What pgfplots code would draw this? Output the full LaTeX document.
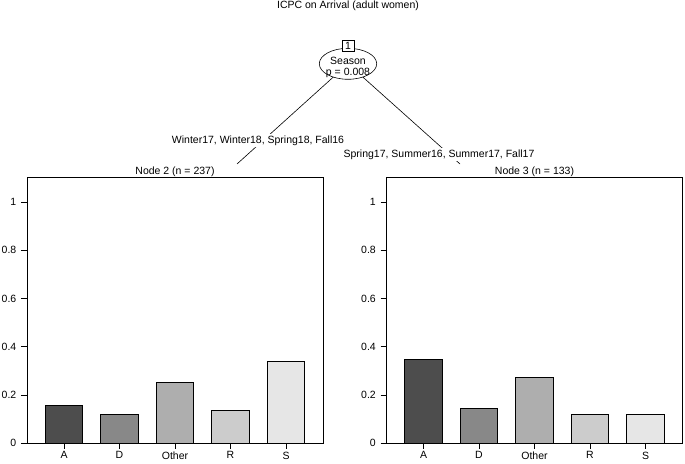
\documentclass[border=0pt]{standalone}
\usepackage{pgfplots}
\pgfplotsset{compat=1.18}
\usepackage{fontspec}
\setmainfont{Liberation Sans}
\definecolor{cA}{HTML}{4D4D4D}
\definecolor{cD}{HTML}{888888}
\definecolor{cO}{HTML}{AEAEAE}
\definecolor{cR}{HTML}{CCCCCC}
\definecolor{cS}{HTML}{E6E6E6}
\pgfplotsset{
  nodepanel/.style={
    anchor=south west, width=296bp, height=266bp, scale only axis,
    xmin=0.3333, xmax=5.6667, ymin=0, ymax=1.104,
    xtick={1,2,3,4,5}, xticklabels={A,D,Other,R,S},
    ytick={0,0.2,0.4,0.6,0.8,1},
    xtick pos=left, ytick pos=left, tick align=outside,
    major tick length=6bp,
    tick style={black, line width=0.6bp},
    axis line style={line width=0.7bp},
    /pgf/number format/assume math mode=true,
    yticklabel style={/pgf/number format/fixed, xshift=-1bp},
    xticklabel style={yshift=-1.5bp, inner sep=1bp},
    every axis plot/.append style={ybar, bar width=0.675, bar shift=0pt, draw=black, line width=0.6bp},
  }
}
\begin{document}
\fontsize{10.5bp}{12.6bp}\selectfont
\begin{tikzpicture}[x=1bp,y=1bp]
\useasboundingbox (0,0) rectangle (685,464);
\node[anchor=base] at (348,455.5) {ICPC on Arrival (adult women)};
% edges
\draw[line width=0.6bp] (348,400.2) -- (237,300);
\draw[line width=0.6bp] (348,400.2) -- (460,300);
\node[fill=white, inner sep=1.5bp, anchor=base] at (258,320.5) {Winter17, Winter18, Spring18, Fall16};
\node[fill=white, inner sep=1.5bp, anchor=base] at (439,306.5) {Spring17, Summer16, Summer17, Fall17};
% inner node
\draw[fill=white, line width=0.6bp] (348,400.2) ellipse [x radius=28.7, y radius=15.5];
\node[anchor=base] at (348,399) {Season};
\node[anchor=base] at (348,388) {p = 0.008};
\node[draw, fill=white, line width=0.6bp, minimum width=12bp, minimum height=10.5bp, inner sep=0pt] at (348,418.3) {1};
% node labels
\node[anchor=base] at (175,289) {Node 2 (n = 237)};
\node[anchor=base] at (534.5,289) {Node 3 (n = 133)};
% Node 2
\begin{axis}[nodepanel, at={(27bp,21bp)}]
\addplot[fill=cA] coordinates {(1,0.156)};
\addplot[fill=cD] coordinates {(2,0.118)};
\addplot[fill=cO] coordinates {(3,0.253)};
\addplot[fill=cR] coordinates {(4,0.135)};
\addplot[fill=cS] coordinates {(5,0.338)};
\end{axis}
% Node 3
\begin{axis}[nodepanel, at={(386.5bp,21bp)}]
\addplot[fill=cA] coordinates {(1,0.346)};
\addplot[fill=cD] coordinates {(2,0.143)};
\addplot[fill=cO] coordinates {(3,0.271)};
\addplot[fill=cR] coordinates {(4,0.120)};
\addplot[fill=cS] coordinates {(5,0.120)};
\end{axis}
\end{tikzpicture}
\end{document}
